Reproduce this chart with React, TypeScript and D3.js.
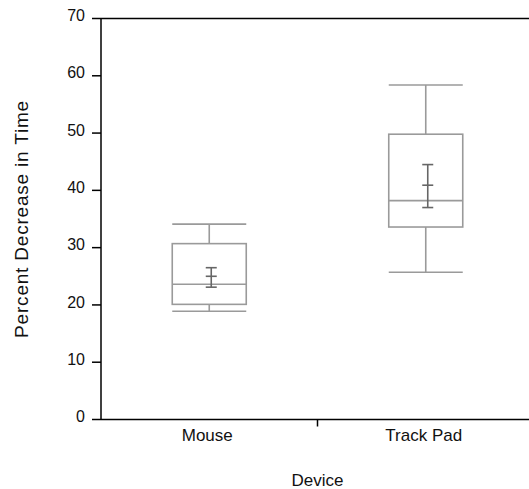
import { useEffect, useRef } from "react";
import * as d3 from "d3";

const devices = ["Mouse", "Track Pad"];
const whiskerLow = [18.9, 25.7];
const q1 = [20.1, 33.6];
const medians = [23.6, 38.2];
const q3 = [30.7, 49.8];
const whiskerHigh = [34.1, 58.4];
const means = [25.0, 40.9];
const meanLow = [23.1, 37.0];
const meanHigh = [26.5, 44.5];
const yTicks = [0, 10, 20, 30, 40, 50, 60, 70];

const App = () => {
  const svgRef = useRef<SVGSVGElement>(null);

  useEffect(() => {
    const svg = d3.select(svgRef.current);
    svg.selectAll("*").remove();
    const font = "'Liberation Sans', Arial, sans-serif";

    const left = 101;
    const right = 534;
    const top = 18.5;
    const bottom = 419.5;

    const x = d3.scaleBand().domain(devices).range([left, right]);
    const y = d3.scaleLinear().domain([0, 70]).range([bottom, top]);

    const g = svg.append("g");

    // y axis ticks + labels
    yTicks.forEach((t) => {
      g.append("line")
        .attr("x1", left - 9)
        .attr("x2", left)
        .attr("y1", y(t))
        .attr("y2", y(t))
        .attr("stroke", "#000")
        .attr("stroke-width", 1.5);
      g.append("text")
        .attr("x", left - 16)
        .attr("y", y(t) - 3)
        .attr("dy", "0.35em")
        .attr("text-anchor", "end")
        .attr("font-family", font)
        .attr("font-size", 16)
        .attr("fill", "#111")
        .text(t);
    });

    // frame: left axis, top and bottom lines
    g.append("line")
      .attr("x1", left).attr("x2", left)
      .attr("y1", top).attr("y2", bottom)
      .attr("stroke", "#000").attr("stroke-width", 1.5);
    g.append("line")
      .attr("x1", left).attr("x2", right)
      .attr("y1", top).attr("y2", top)
      .attr("stroke", "#000").attr("stroke-width", 1.5);
    g.append("line")
      .attr("x1", left).attr("x2", right)
      .attr("y1", bottom).attr("y2", bottom)
      .attr("stroke", "#000").attr("stroke-width", 1.5);

    // x separator tick
    const mid = x("Track Pad") as number;
    g.append("line")
      .attr("x1", mid).attr("x2", mid)
      .attr("y1", bottom).attr("y2", bottom + 7)
      .attr("stroke", "#000").attr("stroke-width", 1.5);

    // x labels
    devices.forEach((d) => {
      g.append("text")
        .attr("x", (x(d) as number) + x.bandwidth() / 2 - 2)
        .attr("y", bottom + 21)
        .attr("text-anchor", "middle")
        .attr("font-family", font)
        .attr("font-size", 17)
        .attr("fill", "#111")
        .text(d);
    });

    // boxes
    const boxW = 74;
    const grey = "#9a9a9a";
    devices.forEach((d, i) => {
      const cx = (x(d) as number) + x.bandwidth() / 2;
      const bx = cx - boxW / 2;
      const bg = g.append("g").attr("stroke", grey).attr("stroke-width", 1.6).attr("fill", "none");
      bg.append("line").attr("x1", cx).attr("x2", cx).attr("y1", y(whiskerHigh[i])).attr("y2", y(q3[i]));
      bg.append("line").attr("x1", cx).attr("x2", cx).attr("y1", y(q1[i])).attr("y2", y(whiskerLow[i]));
      bg.append("line").attr("x1", bx).attr("x2", bx + boxW).attr("y1", y(whiskerHigh[i])).attr("y2", y(whiskerHigh[i]));
      bg.append("line").attr("x1", bx).attr("x2", bx + boxW).attr("y1", y(whiskerLow[i])).attr("y2", y(whiskerLow[i]));
      bg.append("rect")
        .attr("x", bx)
        .attr("y", y(q3[i]))
        .attr("width", boxW)
        .attr("height", y(q1[i]) - y(q3[i]));
      bg.append("line").attr("x1", bx).attr("x2", bx + boxW).attr("y1", y(medians[i])).attr("y2", y(medians[i]));

      // mean with error bar
      const mx = cx + 2;
      const eg = g.append("g").attr("stroke", "#666").attr("stroke-width", 1.6);
      eg.append("line").attr("x1", mx).attr("x2", mx).attr("y1", y(meanHigh[i])).attr("y2", y(meanLow[i]));
      [meanHigh[i], means[i], meanLow[i]].forEach((v) => {
        eg.append("line").attr("x1", mx - 5.5).attr("x2", mx + 5.5).attr("y1", y(v)).attr("y2", y(v));
      });
    });

    // axis titles
    svg.append("text")
      .attr("transform", `translate(28,${(top + bottom) / 2}) rotate(-90)`)
      .attr("text-anchor", "middle")
      .attr("font-family", font)
      .attr("font-size", 19)
      .attr("letter-spacing", 0.8)
      .attr("fill", "#111")
      .text("Percent Decrease in Time");
    svg.append("text")
      .attr("x", mid)
      .attr("y", 486)
      .attr("text-anchor", "middle")
      .attr("font-family", font)
      .attr("font-size", 17)
      .attr("fill", "#111")
      .text("Device");
  }, []);

  return (
    <svg
      ref={svgRef}
      width={529}
      height={489}
      style={{ position: "absolute", left: 0, top: 0, background: "#fff" }}
    ></svg>
  );
};

export default App;
